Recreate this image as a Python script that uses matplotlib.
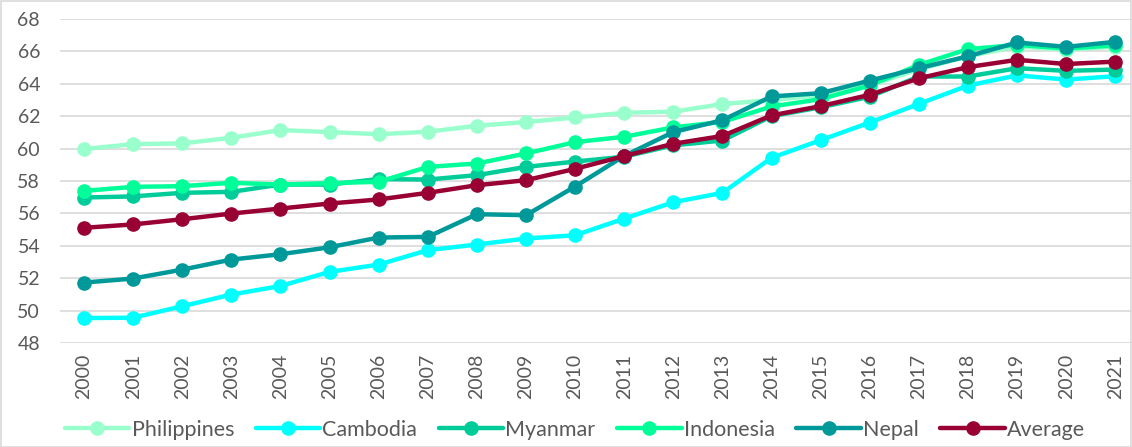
import matplotlib
matplotlib.use("Agg")
import matplotlib.pyplot as plt
from matplotlib.patches import Rectangle

years = [str(y) for y in range(2000, 2022)]
philippines = [59.97, 60.28, 60.32, 60.67, 61.14, 61.02, 60.89, 61.04, 61.41, 61.64,
               61.92, 62.21, 62.28, 62.75, 63.0, 63.3, 63.9, 64.9, 65.7, 66.3, 66.1, 66.3]
cambodia = [49.54, 49.56, 50.27, 50.99, 51.52, 52.39, 52.84, 53.73, 54.08, 54.45,
            54.65, 55.68, 56.69, 57.27, 59.43, 60.52, 61.61, 62.76, 63.89, 64.52, 64.26, 64.47]
myanmar = [56.98, 57.05, 57.27, 57.33, 57.78, 57.78, 58.12, 58.09, 58.36, 58.87,
           59.2, 59.5, 60.2, 60.5, 62.0, 62.55, 63.2, 64.45, 64.45, 64.96, 64.8, 64.88]
indonesia = [57.39, 57.64, 57.68, 57.89, 57.78, 57.87, 57.95, 58.87, 59.08, 59.70,
             60.4, 60.73, 61.31, 61.65, 62.6, 63.05, 63.9, 65.17, 66.14, 66.4, 66.18, 66.37]
nepal = [51.73, 51.98, 52.53, 53.15, 53.48, 53.91, 54.51, 54.55, 55.95, 55.89,
         57.66, 59.55, 61.02, 61.75, 63.22, 63.42, 64.2, 64.96, 65.7, 66.55, 66.28, 66.59]
average = [55.11, 55.32, 55.64, 55.99, 56.30, 56.61, 56.86, 57.27, 57.74, 58.05,
           58.75, 59.54, 60.3, 60.78, 62.05, 62.62, 63.32, 64.34, 65.03, 65.48, 65.22, 65.37]

series_names = ["Philippines", "Cambodia", "Myanmar", "Indonesia", "Nepal", "Average"]
series_values = [philippines, cambodia, myanmar, indonesia, nepal, average]
colors = ["#99FFCC", "#00FFFF", "#00CC99", "#00FF99", "#009999", "#990033"]
yticks = list(range(48, 70, 2))

plt.rcParams['font.family'] = ['Lato', 'DejaVu Sans']

fig = plt.figure(figsize=(11.32, 4.47), dpi=100)
ax = fig.add_axes([59.5 / 1132, 1 - 343 / 447, (1132 - 59.5) / 1132, (343 - 19) / 447])

x = list(range(len(years)))
for name, vals, c in zip(series_names, series_values, colors):
    ax.plot(x, vals, color=c, lw=3.2, marker='o', markersize=9.5, label=name,
            clip_on=False, solid_capstyle='round')

ax.set_ylim(48, 68)
ax.set_xlim(-0.5, 21.34)
ax.set_yticks(yticks)
ax.set_xticks(x)
ax.set_xticklabels(years, rotation=90)
ax.grid(axis='y', color='#D9D9D9', lw=1.2)
ax.set_axisbelow(True)
for s in ax.spines.values():
    s.set_visible(False)
ax.tick_params(axis='both', length=0, colors='#595959', labelsize=14)
ax.tick_params(axis='x', pad=8)
ax.tick_params(axis='y', pad=14)

leg = fig.legend(loc='center', bbox_to_anchor=(0.508, 0.038), ncol=6, frameon=False,
                 fontsize=15.5, handlelength=3.0, columnspacing=1.0, handletextpad=0.1,
                 borderaxespad=0)
for t in leg.get_texts():
    t.set_color('#595959')

fig.patches.append(Rectangle((0.001, 0.001), 0.998, 0.997, transform=fig.transFigure,
                             fill=False, edgecolor='#D9D9D9', lw=1.2))

fig.savefig("out.png", dpi=100)
